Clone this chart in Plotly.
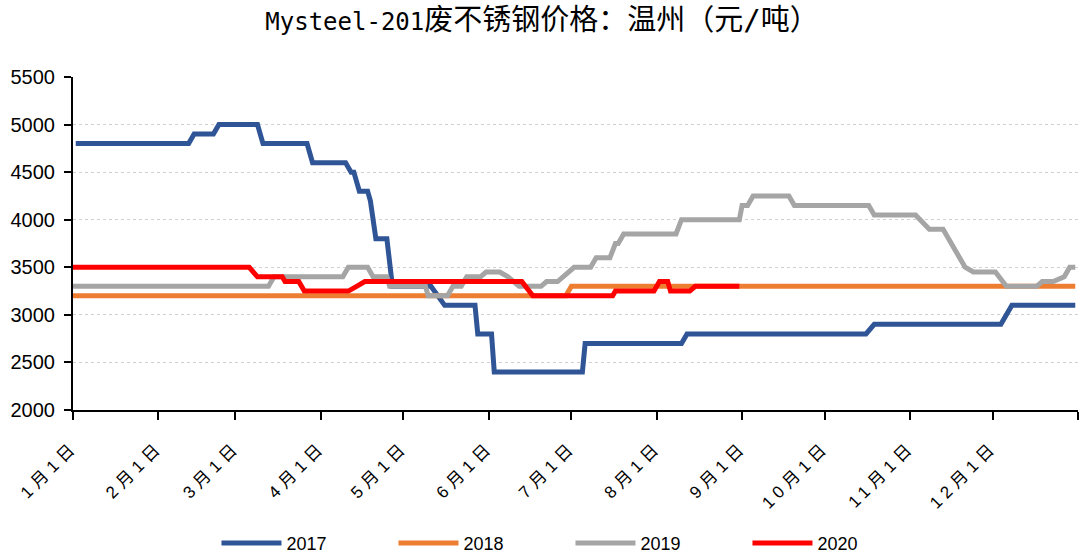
import plotly.graph_objects as go

# ---- data (month-day on a common calendar year, price in 元/吨) ----
series_names = ["2017", "2018", "2019", "2020"]
series_colors = ["#2F5597", "#ED7D31", "#A5A5A5", "#FF0000"]

dates_2017 = ["01-02", "02-12", "02-14", "02-21", "02-23", "03-09", "03-11", "03-27", "03-29",
              "04-10", "04-12", "04-13", "04-15", "04-18", "04-19", "04-21", "04-25", "04-27",
              "05-11", "05-16", "05-27", "05-28", "06-02", "06-03", "07-05", "07-06",
              "08-10", "08-12", "10-16", "10-19", "12-04", "12-08", "12-31"]
values_2017 = [4800, 4800, 4900, 4900, 5000, 5000, 4800, 4800, 4600,
               4600, 4500, 4500, 4300, 4300, 4200, 3800, 3800, 3300,
               3300, 3100, 3100, 2800, 2800, 2400, 2400, 2700,
               2700, 2800, 2800, 2900, 2900, 3100, 3100]

dates_2018 = ["01-01", "06-29", "07-01", "12-31"]
values_2018 = [3200, 3200, 3300, 3300]

dates_2019 = ["01-01", "03-13", "03-15", "04-09", "04-11", "04-18", "04-20", "04-25", "04-26",
              "05-09", "05-10", "05-17", "05-19", "05-22", "05-24", "05-29", "05-31", "06-05",
              "06-08", "06-12", "06-20", "06-22", "06-26", "06-28", "06-30", "07-02", "07-08",
              "07-10", "07-15", "07-17", "07-18", "07-20", "08-08", "08-10", "08-31", "09-01",
              "09-03", "09-05", "09-18", "09-20", "10-17", "10-19", "11-03", "11-08", "11-13",
              "11-17", "11-21", "11-24", "12-02", "12-06", "12-17", "12-19", "12-23", "12-27",
              "12-29", "12-31"]
values_2019 = [3300, 3300, 3400, 3400, 3500, 3500, 3400, 3400, 3300,
               3300, 3200, 3200, 3300, 3300, 3400, 3400, 3450, 3450,
               3400, 3300, 3300, 3350, 3350, 3400, 3450, 3500, 3500,
               3600, 3600, 3750, 3750, 3850, 3850, 4000, 4000, 4150,
               4150, 4250, 4250, 4150, 4150, 4050, 4050, 3900, 3900,
               3700, 3500, 3450, 3450, 3300, 3300, 3350, 3350, 3400,
               3500, 3500]

dates_2020 = ["01-01", "03-06", "03-09", "03-18", "03-19", "03-24", "03-26", "04-11", "04-14",
              "04-17", "06-13", "06-17", "07-16", "07-17", "07-31", "08-02", "08-05", "08-06",
              "08-13", "08-15", "08-31"]
values_2020 = [3500, 3500, 3400, 3400, 3350, 3350, 3250, 3250, 3300,
               3350, 3350, 3200, 3200, 3250, 3250, 3350, 3350, 3250,
               3250, 3300, 3300]

tick_dates = ["01-01", "02-01", "03-01", "04-01", "05-01", "06-01", "07-01", "08-01",
              "09-01", "10-01", "11-01", "12-01"]
tick_labels = ["1月1日", "2月1日", "3月1日", "4月1日", "5月1日", "6月1日", "7月1日", "8月1日",
               "9月1日", "10月1日", "11月1日", "12月1日"]
y_ticks = [2000, 2500, 3000, 3500, 4000, 4500, 5000, 5500]

title_latin = "Mysteel-201"
title_cjk = "废不锈钢价格：温州（元/吨）"

BASE_YEAR = "2017"


def to_date(md):
    return f"{BASE_YEAR}-{md}"


all_dates = [dates_2017, dates_2018, dates_2019, dates_2020]
all_values = [values_2017, values_2018, values_2019, values_2020]

fig = go.Figure()
for name, color, ds, vs in zip(series_names, series_colors, all_dates, all_values):
    fig.add_trace(go.Scatter(
        x=[to_date(d) for d in ds], y=vs, name=name, mode="lines",
        line=dict(color=color, width=5),
    ))

fig.update_layout(
    width=1084, height=556,
    margin=dict(l=73, r=6, t=77, b=146, autoexpand=False),
    paper_bgcolor="white", plot_bgcolor="white",
    title=dict(text=f'{title_latin}<span style="font-size:29px">{title_cjk}</span>',
               x=0.5, xanchor="center", y=0.962, yanchor="middle",
               font=dict(family="DejaVu Sans Mono, Noto Sans CJK SC", size=24, color="black")),
    showlegend=True,
    legend=dict(orientation="h", x=0.495, xanchor="center", y=-0.40, yanchor="middle",
                font=dict(family="Liberation Sans, Arial, sans-serif", size=18, color="black"),
                entrywidth=102, itemwidth=60),
)

fig.update_xaxes(
    type="date",
    range=[to_date("01-01"), "2018-01-01"],
    tickmode="array",
    tickvals=[to_date(d) for d in tick_dates] + ["2018-01-01"],
    ticktext=[f'<span style="letter-spacing:5px">{t}</span>' for t in tick_labels] + [""],
    tickangle=-45,
    tickfont=dict(family="Liberation Sans, Noto Sans CJK SC", size=17, color="black"),
    ticks="outside", ticklen=8, tickwidth=2, tickcolor="black",
    ticklabelstandoff=10,
    showline=True, linecolor="black", linewidth=2,
    showgrid=False, zeroline=False, automargin=False,
)

fig.update_yaxes(
    range=[2000, 5500],
    tickmode="array", tickvals=y_ticks,
    tickfont=dict(family="Liberation Sans, Arial, sans-serif", size=20, color="black"),
    ticks="outside", ticklen=7, tickwidth=2, tickcolor="black",
    ticklabelstandoff=5,
    showline=True, linecolor="black", linewidth=2,
    showgrid=True, gridcolor="#D0D0D0", gridwidth=1, griddash="dot",
    zeroline=False, automargin=False,
)

fig.write_html("out.html", config={"displayModeBar": False},
               post_script="document.body.style.margin='0';document.body.style.overflow='hidden';")
